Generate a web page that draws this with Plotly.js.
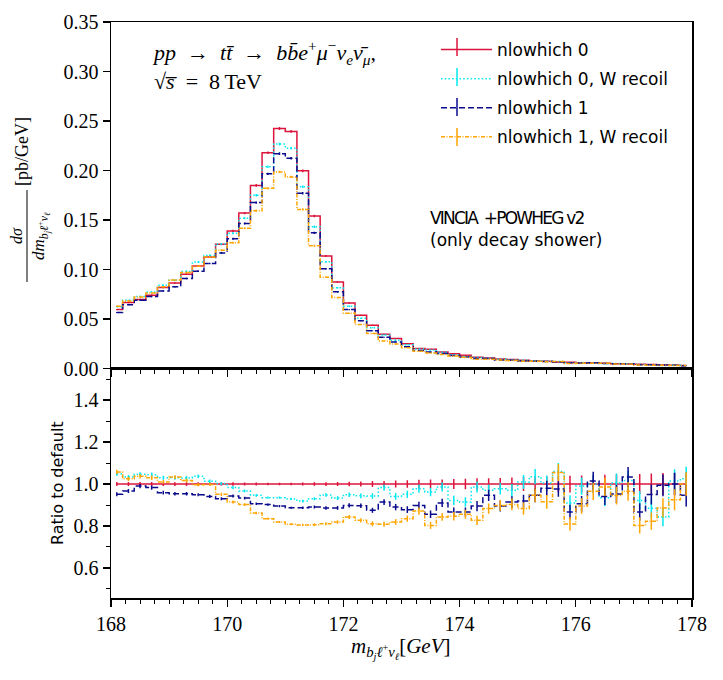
<!DOCTYPE html>
<html>
<head>
<meta charset="utf-8">
<script src="https://cdn.plot.ly/plotly-3.0.1.min.js"></script>
<style>html,body{margin:0;padding:0;background:#fff;}</style>
</head>
<body>
<div id="chart" style="width:723px;height:680px;"></div>
<script>
// Invariant mass of the b-jet + lepton + neutrino system, 0.2 GeV bins
const binCentres = [168.1, 168.3, 168.5, 168.7, 168.9, 169.1, 169.3, 169.5, 169.7, 169.9,
  170.1, 170.3, 170.5, 170.7, 170.9, 171.1, 171.3, 171.5, 171.7, 171.9,
  172.1, 172.3, 172.5, 172.7, 172.9, 173.1, 173.3, 173.5, 173.7, 173.9,
  174.1, 174.3, 174.5, 174.7, 174.9, 175.1, 175.3, 175.5, 175.7, 175.9,
  176.1, 176.3, 176.5, 176.7, 176.9, 177.1, 177.3, 177.5, 177.7, 177.9];

// dsigma/dm [pb/GeV] for the default setting (nlowhich 0)
const xsecDefault = [0.0596, 0.0667, 0.0697, 0.0740, 0.0818, 0.0865, 0.0953, 0.1037, 0.1128, 0.1256,
  0.1390, 0.1570, 0.1850, 0.2180, 0.2425, 0.2395, 0.1997, 0.1540, 0.1137, 0.0875,
  0.0663, 0.0538, 0.0437, 0.0346, 0.0303, 0.0252, 0.0202, 0.0195, 0.0168, 0.0151,
  0.0134, 0.0114, 0.0107, 0.0097, 0.0091, 0.0084, 0.0077, 0.0074, 0.0067, 0.0064,
  0.0060, 0.0057, 0.0054, 0.0050, 0.0047, 0.0044, 0.0040, 0.0037, 0.0034, 0.0030];

// Bin-by-bin ratios of the alternative settings to the default
const ratioRecoil0 = [1.049, 1.033, 1.046, 1.044, 1.030, 1.030, 1.029, 1.037, 1.013, 1.002,
  0.983, 0.967, 0.946, 0.935, 0.935, 0.929, 0.919, 0.930, 0.948, 0.933,
  0.949, 0.944, 0.943, 0.983, 0.941, 0.951, 0.978, 0.962, 0.986, 0.922,
  0.914, 0.986, 0.970, 0.978, 0.970, 1.010, 1.035, 1.005, 1.060, 0.910,
  0.990, 1.000, 0.935, 1.005, 1.017, 0.922, 0.885, 0.843, 1.015, 1.025];
const ratioNlo1 = [0.951, 0.967, 0.990, 0.983, 0.959, 0.954, 0.954, 0.949, 0.941, 0.930,
  0.943, 0.933, 0.906, 0.902, 0.895, 0.887, 0.887, 0.890, 0.886, 0.886,
  0.898, 0.897, 0.875, 0.914, 0.890, 0.878, 0.898, 0.856, 0.910, 0.867,
  0.867, 0.895, 0.946, 0.895, 0.914, 0.919, 0.946, 0.980, 0.976, 0.867,
  0.906, 1.015, 0.941, 0.952, 1.033, 0.867, 0.950, 0.994, 1.000, 0.946];
const ratioRecoil1 = [1.057, 1.025, 1.037, 1.030, 1.010, 1.033, 1.017, 0.997, 0.998, 0.951,
  0.914, 0.902, 0.862, 0.835, 0.819, 0.808, 0.805, 0.806, 0.811, 0.819,
  0.843, 0.827, 0.811, 0.808, 0.819, 0.835, 0.871, 0.803, 0.843, 0.846,
  0.856, 0.827, 0.883, 0.898, 0.903, 0.883, 0.946, 0.915, 1.055, 0.810,
  0.895, 0.965, 0.986, 0.945, 0.965, 0.803, 0.823, 0.886, 0.925, 1.000];

// Relative statistical uncertainty per bin
const relErr = [0.010, 0.010, 0.010, 0.010, 0.009, 0.009, 0.009, 0.008, 0.008, 0.008,
  0.008, 0.007, 0.007, 0.006, 0.006, 0.006, 0.007, 0.008, 0.009, 0.010,
  0.011, 0.012, 0.014, 0.015, 0.017, 0.018, 0.020, 0.021, 0.022, 0.024,
  0.025, 0.027, 0.028, 0.029, 0.031, 0.033, 0.035, 0.036, 0.038, 0.040,
  0.041, 0.043, 0.044, 0.045, 0.046, 0.048, 0.050, 0.052, 0.054, 0.056];

const seriesNames = ['nlowhich 0', 'nlowhich 0, W recoil', 'nlowhich 1', 'nlowhich 1, W recoil'];
const seriesColors = ['#dc143c', '#00e8f0', '#0a0a8c', '#ffa500'];
const seriesDash = ['solid', '1.5px,2.2px', '6px,3px', '4px,1.5px,1px,1.5px'];

const distributions = [
  xsecDefault,
  xsecDefault.map((v, i) => v * ratioRecoil0[i]),
  xsecDefault.map((v, i) => v * ratioNlo1[i]),
  xsecDefault.map((v, i) => v * ratioRecoil1[i])
];

const traces = [];
distributions.forEach((dist, s) => {
  const line = {color: seriesColors[s], width: 1.5, dash: seriesDash[s], shape: 'hvh'};
  const errStyle = {type: 'data', visible: true, color: seriesColors[s], thickness: 1.5, width: 0};
  traces.push({
    type: 'scatter', mode: 'lines', name: seriesNames[s], legendgroup: 'g' + s,
    x: binCentres, y: dist, line: line,
    error_y: Object.assign({array: dist.map((v, i) => v * relErr[i])}, errStyle),
    xaxis: 'x', yaxis: 'y', hoverinfo: 'skip'
  });
  const ratio = dist.map((v, i) => v / xsecDefault[i]);
  traces.push({
    type: 'scatter', mode: 'lines', name: seriesNames[s], legendgroup: 'g' + s, showlegend: false,
    x: binCentres, y: ratio, line: line,
    error_y: Object.assign({array: ratio.map((v, i) => v * relErr[i])}, errStyle),
    xaxis: 'x2', yaxis: 'y2', hoverinfo: 'skip'
  });
});

// pixel helpers for placing text around the plot area
const L = 111, R = 31, T = 22, B = 82, W = 723, H = 680;
const px = v => (v - L) / (W - L - R);
const py = v => (H - B - v) / (H - T - B);

const serif = 'Liberation Serif, DejaVu Serif, serif';
const sans = 'DejaVu Sans, sans-serif';
const split = 0.3983;

const axisCommon = {
  showline: true, linecolor: '#000', linewidth: 1.5, mirror: true,
  showgrid: false, zeroline: false, ticks: 'outside', tickcolor: '#000',
  tickwidth: 1.2, ticklen: 7, tickfont: {family: serif, size: 20, color: '#000'}
};

// legend entries carry a vertical error-bar stroke through the line sample
const legendRows = [47, 77, 107, 137];
const legendBars = legendRows.map((r, s) => ({
  type: 'line', xref: 'paper', yref: 'paper', x0: px(457), x1: px(457), y0: py(r - 9), y1: py(r + 9),
  line: {color: seriesColors[s], width: 1.5}
}));

const sp = '\u2002';
const textBox = (x, y, text, font, extra) => Object.assign({
  xref: 'paper', yref: 'paper', x: px(x), y: py(y), xanchor: 'center', yanchor: 'middle',
  showarrow: false, font: font, text: text
}, extra || {});

const layout = {
  width: W, height: H,
  margin: {l: L, r: R, t: T, b: B},
  paper_bgcolor: '#fff', plot_bgcolor: '#fff',
  showlegend: true,
  xaxis: Object.assign({}, axisCommon, {
    domain: [0, 1], anchor: 'y', range: [168, 178], matches: 'x2',
    tick0: 168, dtick: 2, showticklabels: false,
    minor: {dtick: 0.25, tick0: 168, ticks: 'outside', ticklen: 4, tickcolor: '#000', tickwidth: 1}
  }),
  yaxis: Object.assign({}, axisCommon, {
    domain: [split, 1], anchor: 'x', range: [0, 0.35], tick0: 0, dtick: 0.05, tickformat: '.2f'
  }),
  xaxis2: Object.assign({}, axisCommon, {
    domain: [0, 1], anchor: 'y2', range: [168, 178], tick0: 168, dtick: 2, tickformat: 'd',
    minor: {dtick: 0.25, tick0: 168, ticks: 'outside', ticklen: 4, tickcolor: '#000', tickwidth: 1}
  }),
  yaxis2: Object.assign({}, axisCommon, {
    domain: [0, split], anchor: 'x2', range: [0.457, 1.55],
    tickvals: [0.6, 0.8, 1.0, 1.2, 1.4], tickformat: '.1f',
    minor: {tickvals: [0.5, 0.7, 0.9, 1.1, 1.3, 1.5], ticks: 'outside', ticklen: 4, tickcolor: '#000', tickwidth: 1}
  }),
  legend: {
    x: px(436), y: py(32), xanchor: 'left', yanchor: 'top',
    bgcolor: 'rgba(0,0,0,0)', borderwidth: 0,
    font: {family: sans, size: 17, color: '#000'},
    itemwidth: 51, tracegroupgap: 4
  },
  shapes: [
    // fraction bar of the y-axis label
    {type: 'line', xref: 'paper', yref: 'paper', x0: px(27), x1: px(27), y0: py(282), y1: py(190),
     line: {color: '#000', width: 1}}
  ].concat(legendBars),
  annotations: [
    textBox(150, 35,
      '<i>pp</i>' + sp + '→' + sp + '<i>t</i><i>t̄</i>' + sp + '→' + sp +
      '<i>b</i><i>b̄</i><i>e</i><sup>+</sup><i>μ</i><sup>−</sup><i>ν</i><sub><i>e</i></sub><i>ν̄</i><sub><i>μ</i></sub>,' +
      '<br>√<i>s̅</i>' + sp + '=' + sp + '8\u2009TeV',
      {family: serif, size: 22, color: '#000'},
      {xanchor: 'left', yanchor: 'top', align: 'left'}),
    textBox(428, 206,
      '<span style="letter-spacing:-1.8px">VINCIA\u2002+POWHEG v2</span><br>(only decay shower)',
      {family: sans, size: 17, color: '#000'},
      {xanchor: 'left', yanchor: 'top', align: 'left'}),
    textBox(22, 152, '[pb/GeV]', {family: serif, size: 18, color: '#000'}, {textangle: -90}),
    textBox(16, 236, '<i>dσ</i>', {family: serif, size: 16, color: '#000'}, {textangle: -90}),
    textBox(40, 236,
      '<i>dm</i><sub><i>b</i><sub><i>j</i></sub><i>ℓ</i><sup>+</sup><i>ν</i><sub><i>ℓ</i></sub></sub>',
      {family: serif, size: 17, color: '#000'}, {textangle: -90}),
    textBox(57, 483, 'Ratio to default', {family: sans, size: 16, color: '#000'}, {textangle: -90}),
    textBox(400, 648,
      '<i>m</i><sub><i>b</i><sub><i>j</i></sub><i>ℓ</i><sup>+</sup><i>ν</i><sub><i>ℓ</i></sub></sub>[<i>GeV</i>]',
      {family: serif, size: 21, color: '#000'})
  ]
};

Plotly.newPlot('chart', traces, layout, {staticPlot: true, displayModeBar: false});
</script>
</body>
</html>
